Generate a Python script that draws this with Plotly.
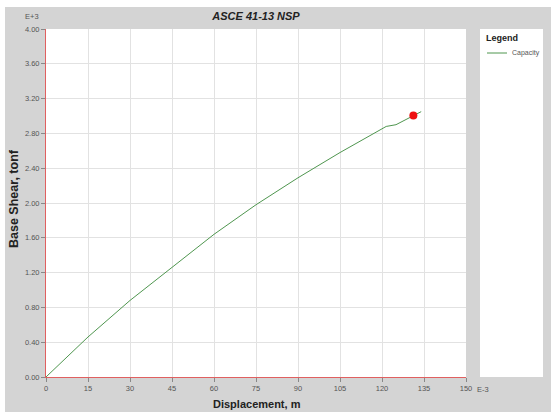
import plotly.graph_objects as go

# Capacity curve (displacement in E-3 m, base shear in E+3 tonf)
disp = [0, 15, 30, 45, 60, 75, 90, 105, 120, 121.5, 125, 128, 131, 134]
shear = [0, 0.46, 0.88, 1.26, 1.64, 1.98, 2.29, 2.58, 2.86, 2.88, 2.90, 2.95, 3.00, 3.05]
# Performance point
pp_disp = [131.2]
pp_shear = [3.007]

series_name = "Capacity"
font = "Liberation Sans, Arial, sans-serif"
line_color = "#4f964f"
gray = "#d4d4d4"

fig = go.Figure()
fig.add_trace(go.Scatter(x=disp, y=shear, mode="lines", name=series_name, showlegend=False,
                         line=dict(color=line_color, width=1)))
fig.add_trace(go.Scatter(x=pp_disp, y=pp_shear, mode="markers", showlegend=False,
                         marker=dict(color="#ee1111", size=8)))

W, H = 551, 412
L, R, T, B = 46, 85, 29, 35
pw, ph = W - L - R, H - T - B


def px(x):
    return (x - L) / pw


def py(y):
    return (H - B - y) / ph


fig.update_layout(
    width=W, height=H,
    paper_bgcolor="white", plot_bgcolor="white",
    margin=dict(l=L, r=R, t=T, b=B, autoexpand=False),
    font=dict(family=font, color="#555555", size=7),
    title=dict(text="<b><i>ASCE 41-13 NSP</i></b>", x=256 / W, xref="container", xanchor="center",
               y=1 - 16.5 / H, yref="container", yanchor="middle",
               font=dict(size=11, color="#222222", family=font)),
    showlegend=False,
    xaxis=dict(range=[0, 150], dtick=15, tick0=0, showgrid=True, gridcolor="#e2e2e2",
               showline=True, linecolor="#e06060", linewidth=1, zeroline=False,
               ticks="outside", ticklen=4, tickcolor="#888888", automargin=False,
               tickfont=dict(size=7.5, color="#555555")),
    yaxis=dict(range=[0, 4], dtick=0.4, tick0=0, tickformat=".2f", showgrid=True,
               gridcolor="#e2e2e2", showline=True, linecolor="#e06060", linewidth=1,
               zeroline=False, ticks="outside", ticklen=4, tickcolor="#888888", automargin=False,
               tickfont=dict(size=7.5, color="#555555")),
    shapes=[
        dict(type="rect", xref="paper", yref="paper", x0=px(5), x1=px(W + 10), y0=py(H + 10), y1=py(7),
             fillcolor=gray, line=dict(width=0), layer="below"),
        dict(type="rect", xref="paper", yref="paper", x0=0, x1=1, y0=0, y1=1,
             fillcolor="white", line=dict(width=0), layer="below"),
        dict(type="rect", xref="paper", yref="paper", x0=px(480), x1=px(543), y0=0, y1=1,
             fillcolor="white", line=dict(width=0), layer="below"),
        dict(type="line", xref="paper", yref="paper", x0=px(487), x1=px(507), y0=py(53), y1=py(53),
             line=dict(color=line_color, width=1)),
    ],
    annotations=[
        dict(text="E+3", xref="paper", yref="paper", x=px(32), y=py(16), xanchor="center",
             yanchor="middle", showarrow=False, font=dict(size=7.5, color="#555555")),
        dict(text="E-3", xref="paper", yref="paper", x=px(475), y=py(389), xanchor="left",
             yanchor="middle", showarrow=False, font=dict(size=7.5, color="#555555")),
        dict(text="<b>Base Shear, tonf</b>", xref="paper", yref="paper", x=px(14), y=py(199),
             textangle=-90, xanchor="center", yanchor="middle", showarrow=False,
             font=dict(size=12.5, color="#222222")),
        dict(text="<b>Displacement, m</b>", xref="paper", yref="paper", x=px(257), y=py(404),
             xanchor="center", yanchor="middle", showarrow=False,
             font=dict(size=11, color="#222222")),
        dict(text="<b>Legend</b>", xref="paper", yref="paper", x=px(484), y=py(38),
             xanchor="left", yanchor="middle", showarrow=False,
             font=dict(size=9, color="#222222")),
        dict(text=series_name, xref="paper", yref="paper", x=px(510), y=py(53),
             xanchor="left", yanchor="middle", showarrow=False,
             font=dict(size=7, color="#555555")),
    ],
)

fig.write_html("out.html", config={"displayModeBar": False},
               post_script="document.body.style.margin='0';document.body.style.overflow='hidden';")
